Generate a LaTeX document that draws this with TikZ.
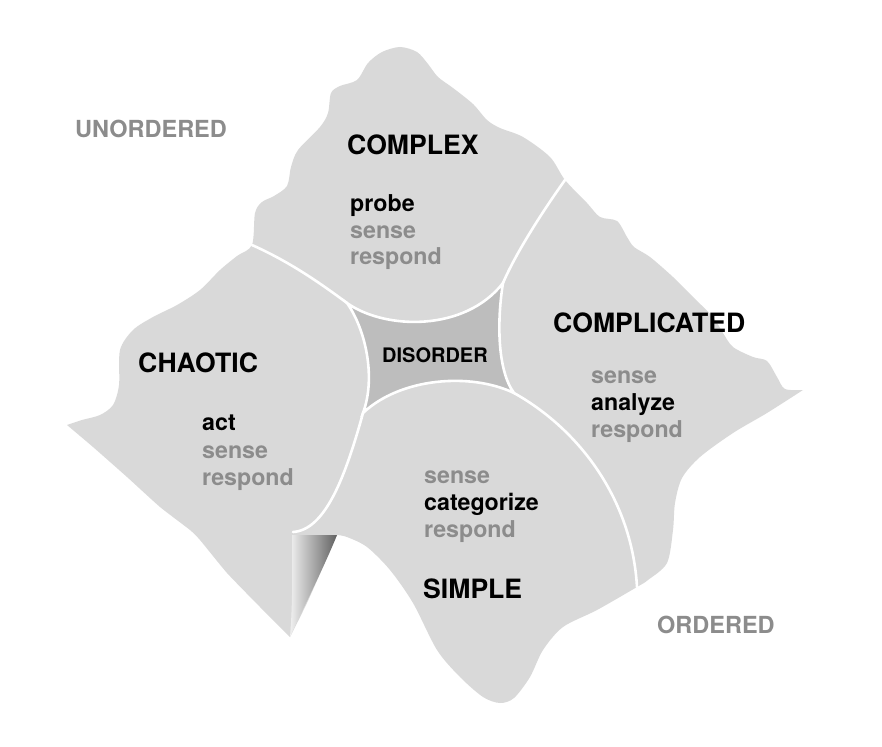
\documentclass[tikz,border=0pt]{standalone}
\usepackage{fontspec}
\setmainfont{TeX Gyre Heros}
\definecolor{landgray}{HTML}{D9D9D9}
\definecolor{midgray}{HTML}{BDBDBD}
\definecolor{wordgray}{HTML}{8C8C8C}
\tikzset{
  areaname/.style={font=\bfseries\fontsize{26.6}{30}\selectfont, anchor=base west, inner sep=0pt},
  actword/.style={font=\bfseries\fontsize{23.2}{27}\selectfont, anchor=base west, inner sep=0pt},
  restword/.style={actword, text=wordgray},
  sidename/.style={font=\bfseries\fontsize{23.5}{26}\selectfont, anchor=base west, inner sep=0pt, text=wordgray},
  seam/.style={draw=white, line width=2.6pt, line cap=round}
}
\begin{document}
\begin{tikzpicture}[x=1pt,y=-1pt]
\useasboundingbox (0,0) rectangle (882,746);
% the land
\fill[landgray]
  plot[smooth,tension=0.5] coordinates {(67,425) (82,420) (100,415) (113,405) (119,385) (120,350)
    (133,330) (153,317) (177,305) (200,290) (220,270) (237,256) (252,245) (255,213) (262,202)
    (274,196) (287,186) (291,167) (298,150) (320,127) (328,113) (331,93) (340,86) (357,80)
    (368,63) (382,52) (400,47) (417,52) (428,64) (438,77) (453,88) (473,104) (487,120)
    (500,128) (523,137) (550,157) (565,180) (587,203) (600,217) (617,221) (627,237) (634,247)
    (650,257) (673,277) (693,297) (713,317) (723,333) (733,347) (753,357) (767,361) (777,377)
    (785,389) (803,390)}
  -- plot[smooth,tension=0.5] coordinates {(803,390) (767,413) (733,433) (700,457) (682,478)
    (675,503) (673,530) (667,563) (648,580) (637,587) (597,610) (563,627) (543,650) (530,677)
    (514,698) (500,703) (483,697) (460,677) (437,650) (413,603) (390,570) (367,547) (347,537)
    (337,535)}
  -- plot[smooth,tension=0.5] coordinates {(337,535) (323,567) (307,603) (290,637)}
  -- plot[smooth,tension=0.3] coordinates {(290,637) (260,607) (227,573) (200,540) (190,530)
    (160,507) (127,477) (93,447) (67,425)}
  -- cycle;
% the cliff
\shade[left color=black!6, right color=black!62]
  (292,535) -- (337,535) .. controls (325,565) and (300,615) .. (290,637)
  .. controls (293,600) and (292,570) .. cycle;
% disorder
\fill[midgray] (347,303) .. controls (385,330) and (465,332) .. (503,283)
  .. controls (497,320) and (497,370) .. (514,393)
  .. controls (470,372) and (400,378) .. (363,413)
  .. controls (376,378) and (366,330) .. cycle;
\draw[seam] (347,303) .. controls (385,330) and (465,332) .. (503,283)
  .. controls (497,320) and (497,370) .. (514,393)
  .. controls (470,372) and (400,378) .. (363,413)
  .. controls (376,378) and (366,330) .. cycle;
% borders
\draw[seam] (252,245) .. controls (290,262) and (320,283) .. (347,303);
\draw[seam] (565,180) .. controls (540,215) and (515,255) .. (503,283);
\draw[seam] (514,393) .. controls (580,430) and (632,500) .. (637,587);
\draw[seam] (363,413) .. controls (345,478) and (325,530) .. (293,532);
% names
\node[sidename] (unord) at (75,138) {UNORDERED};
\node[sidename] (ord) at (657,633) {ORDERED};
\node[areaname] (complex) at (347,155) {COMPLEX};
\node[actword] (probe) at (350,211) {probe};
\node[restword] (cxsense) at (350,238) {sense};
\node[restword] (cxrespond) at (350,264) {respond};
\node[areaname] (chaotic) at (138,372) {CHAOTIC};
\node[actword] (act) at (202,430) {act};
\node[restword] (chsense) at (202,458) {sense};
\node[restword] (chrespond) at (202,485) {respond};
\node[areaname] (complicated) at (553,332) {COMPLICATED};
\node[restword] (cpsense) at (591,383) {sense};
\node[actword] (analyze) at (591,410) {analyze};
\node[restword] (cprespond) at (591,437) {respond};
\node[restword] (smsense) at (424,483) {sense};
\node[actword] (categorize) at (424,510) {categorize};
\node[restword] (smrespond) at (424,537) {respond};
\node[areaname] (simple) at (423,598) {SIMPLE};
\node[font=\bfseries\fontsize{20}{24}\selectfont, anchor=base west, inner sep=0pt] (disorder) at (382,362) {DISORDER};
\end{tikzpicture}
\end{document}
